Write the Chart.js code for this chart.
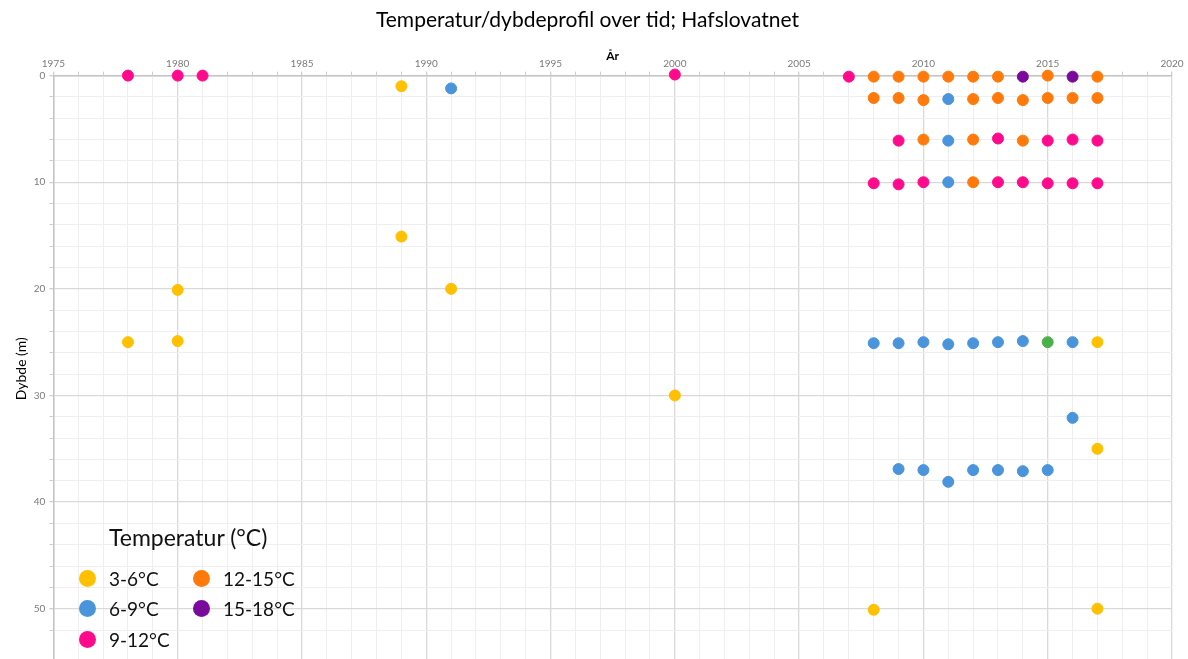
<!DOCTYPE html>
<html lang="no">
<head>
<meta charset="utf-8">
<title>Temperatur/dybdeprofil over tid; Hafslovatnet</title>
<script src="https://cdn.jsdelivr.net/npm/chart.js@4/dist/chart.umd.min.js"></script>
<style>
  html, body { margin: 0; padding: 0; background: #fff; }
  #wrap { position: relative; width: 1188px; height: 659px; overflow: hidden; }
  #legend {
    position: absolute; left: 79px; top: 523px;
    font-family: Lato, "Open Sans", sans-serif; color: #111;
  }
  #legend .tittel { font-size: 23px; margin-left: 30px; margin-bottom: 12px; }
  #legend .rader {
    display: grid; grid-auto-flow: column; grid-template-rows: repeat(3, 30.5px);
    grid-template-columns: 114px 120px;
  }
  #legend .rad { display: flex; align-items: center; font-size: 19px; }
  #legend .prikk { width: 17px; height: 17px; border-radius: 50%; margin-right: 13px; }
</style>
</head>
<body>
<div id="wrap">
  <!-- lerretet er litt høyere enn rammen, så plottet går helt ned til kanten -->
  <canvas id="profil" width="1188" height="672"></canvas>
  <div id="legend"></div>
</div>
<script>
// Målinger: år og dybde (m), gruppert etter temperaturklasse
const klasser = ["3-6°C", "6-9°C", "9-12°C", "12-15°C", "15-18°C", "annet"];
const farger = ["#ffc000", "#4a94dc", "#ff0a8c", "#ff7a0a", "#7a0a9c", "#4cb04a"];

const aar36 = [1978, 1980, 1980, 1989, 1989, 1991, 2000, 2008, 2017, 2017, 2017];
const dybde36 = [25, 20.1, 24.9, 1.0, 15.1, 20, 30, 50.1, 25, 35, 50];

const aar69 = [1991, 2011, 2011, 2011, 2008, 2009, 2010, 2011, 2012, 2013, 2014, 2016, 2016,
  2009, 2010, 2011, 2012, 2013, 2014, 2015];
const dybde69 = [1.2, 2.2, 6.1, 10.0, 25.1, 25.1, 25.0, 25.2, 25.1, 25.0, 24.9, 25.0, 32.1,
  36.9, 37.0, 38.1, 37.0, 37.0, 37.1, 37.0];

const aar912 = [1978, 1980, 1981, 2000, 2007, 2009, 2013, 2015, 2016, 2017,
  2008, 2009, 2010, 2013, 2014, 2015, 2016, 2017];
const dybde912 = [0, 0, 0, -0.1, 0.1, 6.1, 5.9, 6.1, 6.0, 6.1,
  10.1, 10.2, 10.0, 10.0, 10.0, 10.1, 10.1, 10.1];

const aar1215 = [2008, 2009, 2010, 2011, 2012, 2013, 2015, 2017,
  2008, 2009, 2010, 2012, 2013, 2014, 2015, 2016, 2017,
  2010, 2012, 2014, 2012];
const dybde1215 = [0.1, 0.1, 0.1, 0.1, 0.1, 0.1, 0, 0.1,
  2.1, 2.1, 2.3, 2.2, 2.1, 2.3, 2.1, 2.1, 2.1,
  6.0, 6.0, 6.1, 10.0];

const aar1518 = [2014, 2016];
const dybde1518 = [0.1, 0.1];

const aarAnnet = [2015];
const dybdeAnnet = [25.0];

const aarTicks = [1975, 1980, 1985, 1990, 1995, 2000, 2005, 2010, 2015, 2020];
const dybdeTicks = [0, 10, 20, 30, 40, 50];

const serier = [
  [aar36, dybde36], [aar69, dybde69], [aar912, dybde912],
  [aar1215, dybde1215], [aar1518, dybde1518], [aarAnnet, dybdeAnnet]
];

const datasets = serier.map(([xs, ys], i) => ({
  label: klasser[i],
  data: xs.map((x, j) => ({ x: x, y: ys[j] })),
  backgroundColor: farger[i],
  borderColor: farger[i],
  pointRadius: 5.5,
  pointHoverRadius: 6,
  clip: false
}));

const font = "Lato, 'Open Sans', sans-serif";

const chart = new Chart(document.getElementById("profil"), {
  type: "scatter",
  data: { datasets: datasets },
  options: {
    responsive: false,
    animation: false,
    layout: { padding: { left: 3, right: 16, top: 0, bottom: 0 } },
    plugins: {
      legend: { display: false },
      tooltip: { enabled: false },
      title: {
        display: true,
        text: "Temperatur/dybdeprofil over tid; Hafslovatnet",
        color: "#000",
        font: { family: font, size: 21, weight: "normal" },
        padding: { top: 8, bottom: 16 }
      }
    },
    scales: {
      x: {
        type: "linear",
        position: "top",
        min: 1975,
        max: 2020,
        title: {
          display: true, text: "År", color: "#000",
          font: { family: font, size: 12, weight: "bold" },
          padding: { top: 0, bottom: -8 }
        },
        ticks: {
          stepSize: 1, autoSkip: false, maxRotation: 0,
          color: "#7a7a7a", font: { family: font, size: 10 }, padding: 2,
          callback: v => aarTicks.includes(v) ? String(v) : ""
        },
        grid: {
          color: c => aarTicks.includes(c.tick.value) ? "#d9d9d9" : "#efefef",
          tickColor: "#cfcfcf",
          tickLength: 4,
          lineWidth: c => aarTicks.includes(c.tick.value) ? 1.3 : 1
        },
        border: { color: "#c4c4c4", width: 1.5 }
      },
      y: {
        type: "linear",
        reverse: true,
        min: 0,
        max: 55,
        title: {
          display: true, text: "Dybde (m)", color: "#000",
          font: { family: font, size: 14 }, padding: { top: 10, bottom: 0 }
        },
        ticks: {
          stepSize: 2, autoSkip: false,
          color: "#7a7a7a", font: { family: font, size: 10 }, padding: 4,
          callback: v => dybdeTicks.includes(v) ? String(v) : ""
        },
        grid: {
          color: c => dybdeTicks.includes(c.tick.value) ? "#d9d9d9" : "#efefef",
          tickColor: "#cfcfcf",
          tickLength: 4,
          lineWidth: c => dybdeTicks.includes(c.tick.value) ? 1.3 : 1
        },
        border: { color: "#c4c4c4", width: 1.5 }
      }
    }
  }
});

// Forklaring bygges fra datasettene (uten "annet")
const legend = document.getElementById("legend");
legend.innerHTML = '<div class="tittel">Temperatur (°C)</div><div class="rader"></div>';
const rader = legend.querySelector(".rader");
chart.data.datasets.slice(0, 5).forEach(ds => {
  const rad = document.createElement("div");
  rad.className = "rad";
  rad.innerHTML = `<span class="prikk" style="background:${ds.backgroundColor}"></span>${ds.label}`;
  rader.appendChild(rad);
});
</script>
</body>
</html>
